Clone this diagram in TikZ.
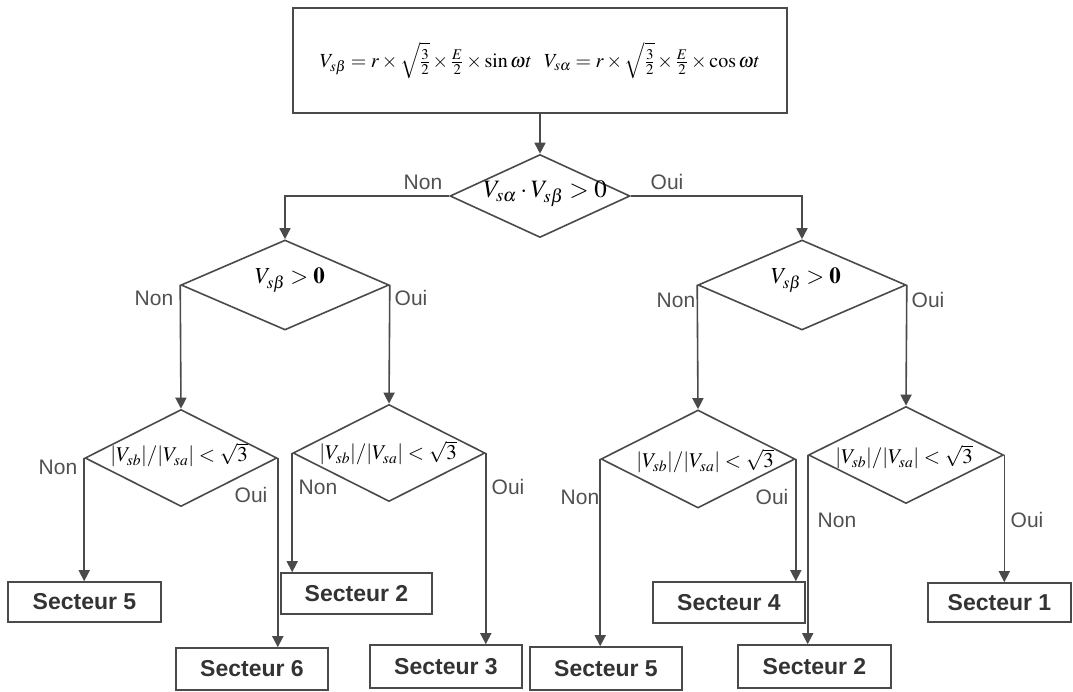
\documentclass[tikz,border=0pt]{standalone}
\usepackage{fontspec}
\usepackage{mathptmx}
\usetikzlibrary{shapes.geometric,arrows.meta}
\newfontfamily\arialfont{Liberation Sans}
\definecolor{traitgris}{HTML}{4A4A4A}
\definecolor{textegris}{HTML}{505050}

\begin{document}
\begin{tikzpicture}[x=1pt,y=-1pt,>={Triangle[length=11pt,width=11pt]},
	trait/.style={draw=traitgris,line width=1.6pt},
	decision/.style={diamond,trait,inner sep=0pt},
	secteur/.style={rectangle,trait,inner sep=0pt,text=black!80,
		font=\arialfont\bfseries\fontsize{23}{27}\selectfont},
	choix/.style={inner sep=0pt,text=textegris,font=\arialfont\fontsize{21}{25}\selectfont},
	formule/.style={inner sep=0pt}]
	\useasboundingbox (0,0) rectangle (1073,691);
	% Bloc de calcul des tensions
	\node[rectangle,trait,minimum width=494,minimum height=105,inner sep=0pt,
		font=\fontsize{20}{24}\selectfont] (cadre) at (540,60.5)
		{$V_{s\beta}=r\times\sqrt{\frac{3}{2}}\times\frac{E}{2}\times\sin\omega t\ \ 
		V_{s\alpha}=r\times\sqrt{\frac{3}{2}}\times\frac{E}{2}\times\cos\omega t$};
	% Tests
	\node[decision,minimum width=180,minimum height=83] (d0) at (540,196) {};
	\node[decision,minimum width=208,minimum height=90] (g1) at (285,285) {};
	\node[decision,minimum width=208,minimum height=90] (d1) at (802,285) {};
	\node[decision,minimum width=192,minimum height=97] (gg) at (181,458) {};
	\node[decision,minimum width=192,minimum height=97] (gd) at (389,453) {};
	\node[decision,minimum width=194,minimum height=98] (dg) at (698,459) {};
	\node[decision,minimum width=195,minimum height=97] (dd) at (906,455) {};
	\node[formule,font=\fontsize{25}{29}\selectfont] (t0) at (545,194)
		{$V_{s\alpha}\cdot V_{s\beta}>0$};
	\node[formule,font=\fontsize{23}{27}\selectfont] (t1) at (290,280)
		{$V_{s\beta}>\mathbf{0}$};
	\node[formule,font=\fontsize{23}{27}\selectfont] (t2) at (806,280)
		{$V_{s\beta}>\mathbf{0}$};
	\foreach \nom/\x/\y in {tgg/179/455,tgd/388/453,tdg/705/461,tdd/904/457}
		\node[formule,font=\fontsize{21}{25}\selectfont] (\nom) at (\x,\y)
			{$|V_{sb}|/|V_{sa}|<\sqrt{3}$};
	% Secteurs
	\node[secteur,minimum width=153,minimum height=40] (s5g) at (84.5,602) {Secteur 5};
	\node[secteur,minimum width=152,minimum height=42] (s6) at (252,669) {Secteur 6};
	\node[secteur,minimum width=151,minimum height=41] (s2g) at (356.5,593.5) {Secteur 2};
	\node[secteur,minimum width=152,minimum height=43] (s3) at (446,666.5) {Secteur 3};
	\node[secteur,minimum width=152,minimum height=43] (s5d) at (606,668.5) {Secteur 5};
	\node[secteur,minimum width=152,minimum height=41] (s4) at (729,602.5) {Secteur 4};
	\node[secteur,minimum width=153,minimum height=43] (s2d) at (814.5,666.5) {Secteur 2};
	\node[secteur,minimum width=143,minimum height=39] (s1) at (999.5,602.5) {Secteur 1};
	% Liaisons
	\draw[trait,->] (cadre.south) -- (d0.north);
	\draw[trait,->] (d0.west) -| (g1.north);
	\draw[trait,->] (d0.east) -| (d1.north);
	\draw[trait,->] (g1.west) -- (gg.north);
	\draw[trait,->] (g1.east) -- (gd.north);
	\draw[trait,->] (d1.west) -- (dg.north);
	\draw[trait,->] (d1.east) -- (dd.north);
	\draw[trait,->] (gg.west) -- (gg.west |- s5g.north);
	\draw[trait,->] (gg.east) -- (gg.east |- s6.north);
	\draw[trait,->] (gd.west) -- (gd.west |- s2g.north);
	\draw[trait,->] (gd.east) -- (gd.east |- s3.north);
	\draw[trait,->] (dg.west) -- (dg.west |- s5d.north);
	\draw[trait,->] (dg.east) -- (dg.east |- s4.north);
	\draw[trait,->] (dd.west) -- (dd.west |- s2d.north);
	\draw[trait,->] (dd.east) -- (dd.east |- s1.north);
	% Reponses
	\node[choix] (non0) at (423,182) {Non};
	\node[choix] (oui0) at (667,182) {Oui};
	\node[choix] (non1) at (154,298) {Non};
	\node[choix] (oui1) at (411,298) {Oui};
	\node[choix] (non2) at (676,300) {Non};
	\node[choix] (oui2) at (928,300) {Oui};
	\node[choix] (nongg) at (58,467) {Non};
	\node[choix] (ouigg) at (251,495) {Oui};
	\node[choix] (nongd) at (318,487) {Non};
	\node[choix] (ouigd) at (508,487) {Oui};
	\node[choix] (nondg) at (580,497) {Non};
	\node[choix] (ouidg) at (772,497) {Oui};
	\node[choix] (nondd) at (837,520) {Non};
	\node[choix] (ouidd) at (1027,520) {Oui};
\end{tikzpicture}
\end{document}
